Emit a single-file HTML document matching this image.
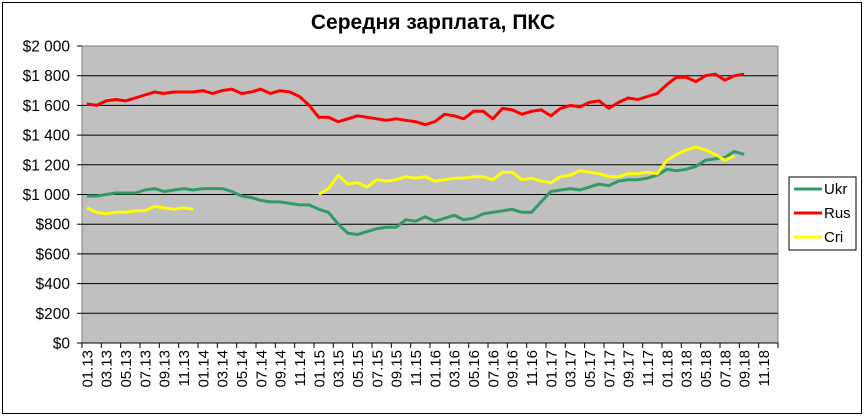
<!DOCTYPE html>
<html><head><meta charset="utf-8">
<style>
body{margin:0;background:#fff;}
svg{display:block;font-family:"Liberation Sans",Arial,sans-serif;}
</style></head><body>
<svg id="s" width="866" height="416" xmlns="http://www.w3.org/2000/svg">
<rect x="2.5" y="2.5" width="859" height="411" fill="#fff" stroke="#000"/>
<text x="433" y="29" font-size="21" font-weight="bold" text-anchor="middle">Середня зарплата, ПКС</text>
<rect x="82" y="46" width="696" height="297" fill="#c0c0c0" stroke="#808080"/>
<g id="g"></g>
<rect x="789" y="177" width="67" height="73" fill="#fff" stroke="#000"/>
<line x1="794" y1="189" x2="822" y2="189" stroke="#339966" stroke-width="3"/>
<line x1="794" y1="213" x2="822" y2="213" stroke="#ff0000" stroke-width="3"/>
<line x1="794" y1="237" x2="822" y2="237" stroke="#ffff00" stroke-width="3"/>
<text x="824" y="194" font-size="15">Ukr</text>
<text x="824" y="218" font-size="15">Rus</text>
<text x="824" y="242" font-size="15">Cri</text>
</svg>
<script>
var g=document.getElementById('g'),h='';
function Y(v){return 343-v*0.1485;}
function X(i){return 82+9.667*(i+0.5);}
for(var k=0;k<=10;k++){var y=Y(k*200);
 if(k>0&&k<10)h+='<line x1="82" x2="778" y1="'+y+'" y2="'+y+'" stroke="#000"/>';
 h+='<line x1="77" x2="82" y1="'+y+'" y2="'+y+'" stroke="#000"/>';
 var t=k==0?'$0':(k<5?'$'+k*200:'$'+Math.floor(k*200/1000)+' '+String(k*200%1000).padStart(3,'0'));
 h+='<text x="70" y="'+(y+5.5)+'" font-size="15.5" text-anchor="end">'+t+'</text>';}
h+='<line x1="82" x2="778" y1="343" y2="343" stroke="#000"/>';
for(var i=0;i<=36;i++){var x=82+i*19.333;h+='<line x1="'+x+'" x2="'+x+'" y1="343" y2="348" stroke="#000"/>';}
for(var m=0;m<72;m+=2){var yr=13+Math.floor(m/12),mo=m%12+1;var lab=(mo<10?'0':'')+mo+'.'+yr;var x=X(m)+5.5;
 h+='<text transform="translate('+x+',350) rotate(-90)" font-size="15" text-anchor="end">'+lab+'</text>';}
var rus=[1610,1600,1630,1640,1630,1650,1670,1690,1680,1690,1690,1690,1700,1680,1700,1710,1680,1690,1710,1680,1700,1690,1660,1600,1520,1520,1490,1510,1530,1520,1510,1500,1510,1500,1490,1470,1490,1540,1530,1510,1560,1560,1510,1580,1570,1540,1560,1570,1530,1580,1600,1590,1620,1630,1580,1620,1650,1640,1660,1680,1740,1790,1790,1760,1800,1810,1770,1800,1810];
var ukr=[990,990,1000,1010,1010,1010,1030,1040,1020,1030,1040,1030,1040,1040,1040,1020,990,980,960,950,950,940,930,930,900,880,800,740,730,750,770,780,780,830,820,850,820,840,860,830,840,870,880,890,900,880,880,950,1020,1030,1040,1030,1050,1070,1060,1090,1100,1100,1110,1130,1170,1160,1170,1190,1230,1240,1250,1290,1270];
var c1=[910,880,870,880,880,890,890,920,910,900,910,900];
var c2=[1000,1040,1130,1070,1080,1050,1100,1090,1100,1120,1110,1120,1090,1100,1110,1110,1120,1120,1100,1150,1150,1100,1110,1090,1080,1120,1130,1160,1150,1140,1120,1120,1140,1140,1150,1140,1230,1270,1300,1320,1300,1270,1230,1260];
function pl(a,off,c){var p=a.map(function(v,i){return X(i+off).toFixed(1)+','+Y(v).toFixed(1)}).join(' ');
 return '<polyline points="'+p+'" fill="none" stroke="'+c+'" stroke-width="3" stroke-linejoin="round"/>';}
h+=pl(ukr,0,'#339966')+pl(rus,0,'#ff0000')+pl(c1,0,'#ffff00')+pl(c2,24,'#ffff00');
g.innerHTML=h;
</script>
</body></html>
